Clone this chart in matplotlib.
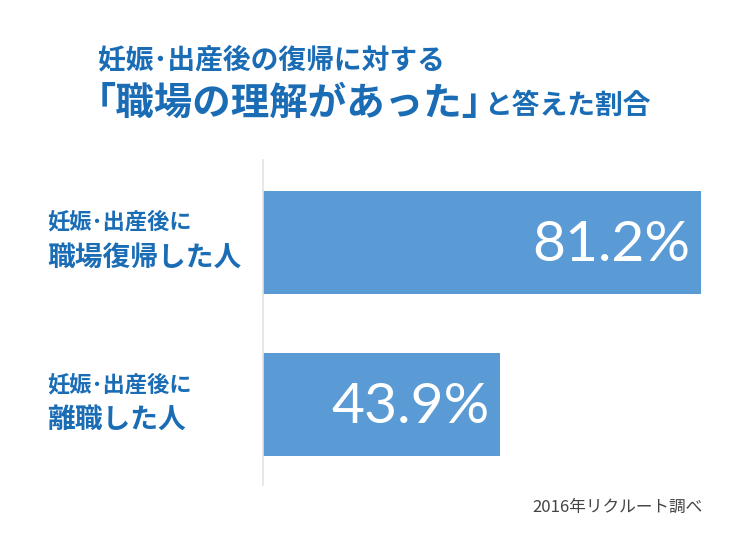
import matplotlib
matplotlib.use("Agg")
import matplotlib.pyplot as plt

plt.rcParams['font.family'] = ['Noto Sans CJK JP', 'DejaVu Sans']

categories_top = ["妊娠･出産後に", "妊娠･出産後に"]
categories_main = ["職場復帰した人", "離職した人"]
values = [81.2, 43.9]
value_labels = ["81.2%", "43.9%"]
title_line1 = "妊娠･出産後の復帰に対する"
title_line2a = "｢職場の理解があった｣"
title_line2b = "と答えた割合"
source = "2016年リクルート調べ"

BAR = "#5B9BD5"
TXT = "#1A6CB5"

W, H = 750, 550
fig = plt.figure(figsize=(W / 100, H / 100), dpi=100)
fig.patch.set_facecolor("white")

left, right, top, bottom = 263, 720, 160, 485
ax = fig.add_axes([left / W, 1 - bottom / H, (right - left) / W, (bottom - top) / H])
ypos = list(range(len(values)))
ax.barh(ypos, values, height=0.636, color=BAR, edgecolor="none", zorder=2)
ax.set_xlim(0, (right - left) / 5.4)
ax.set_ylim(1.497, -0.509)
for s in ["top", "right", "bottom"]:
    ax.spines[s].set_visible(False)
ax.spines["left"].set_color("#e3e3e3")
ax.spines["left"].set_linewidth(1.2)
ax.set_xticks([])
ax.set_yticks([])
ax.set_facecolor("none")

for y, v, lab in zip(ypos, values, value_labels):
    ax.text(v - 2.0, y + 0.02, lab, ha="right", va="center", color="white",
            fontsize=41, family=["Lato", "DejaVu Sans"])

# category labels
for y, t1, t2 in zip(ypos, categories_top, categories_main):
    ydisp = ax.transData.transform((0, y))[1]
    fy = ydisp / H
    fig.text(47 / W, fy + 20 / H, t1, ha="left", va="center", color=TXT,
             fontsize=16, fontweight="bold")
    fig.text(47 / W, fy - 15 / H, t2, ha="left", va="center", color=TXT,
             fontsize=20, fontweight="bold")

# title
fig.text(98 / W, 1 - 60 / H, title_line1, ha="left", va="center", color=TXT,
         fontsize=20, fontweight="bold")
fig.text(97 / W, 1 - 103 / H, title_line2a, ha="left", va="center", color=TXT,
         fontsize=27.7, fontweight="bold")
fig.text(484 / W, 1 - 106 / H, title_line2b, ha="left", va="center", color=TXT,
         fontsize=20, fontweight="bold")

fig.text(703 / W, 1 - 507 / H, source, ha="right", va="center", color="#444444",
         fontsize=12)

fig.savefig("out.png", dpi=100, facecolor="white")
